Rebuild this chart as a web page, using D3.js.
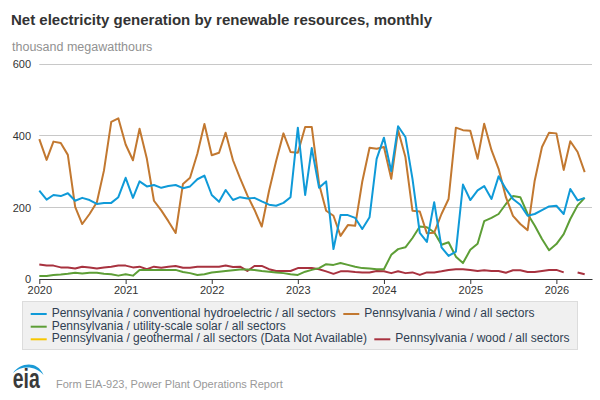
<!DOCTYPE html>
<html>
<head>
<meta charset="utf-8">
<script src="https://cdn.jsdelivr.net/npm/d3@7"></script>
<style>
  html, body { margin: 0; padding: 0; background: #fff; }
  svg { display: block; font-family: "Liberation Sans", Arial, sans-serif; }
</style>
</head>
<body>
<svg id="chart" width="600" height="400"></svg>
<script>
// ---- data (thousand megawatthours), monthly Jan 2020 – May 2026 ----
const startYear = 2020;
const hydro = [245,220,233,230,238,217,225,219,208,211,211,227,
  281,225,271,257,261,253,258,261,252,257,277,287,
  233,214,247,219,227,223,225,215,206,203,211,227,
  421,233,364,253,271,82,177,177,169,138,171,334,
  393,299,425,395,278,127,102,213,87,63,75,262,
  219,246,258,222,285,250,222,206,175,180,191,201,
  203,180,250,218,225];
const wind = [389,331,382,378,345,200,152,180,213,301,437,447,
  374,330,418,334,217,190,160,127,264,281,348,431,
  344,351,407,330,280,232,192,145,245,328,405,353,
  351,423,423,264,189,175,119,149,147,270,365,362,
  367,278,414,339,189,187,126,128,180,222,421,414,
  412,334,432,358,306,227,175,152,135,273,367,407,
  405,303,383,353,297];
const solar = [7,7,10,11,13,16,14,16,16,13,12,8,
  12,8,24,24,24,24,24,24,18,15,10,12,
  17,19,21,23,25,25,24,21,19,17,15,12,
  10,19,24,29,40,38,43,38,33,29,28,26,
  26,66,82,87,113,145,143,129,94,101,61,43,
  80,97,160,169,180,208,230,227,180,148,110,79,
  96,124,166,204,225];
const geothermal = []; // Data Not Available
const wood = [39,36,36,31,31,28,33,31,28,31,33,36,
  36,31,33,26,33,30,33,35,30,30,33,33,
  33,33,36,32,33,21,35,35,26,21,21,21,
  29,29,29,26,20,13,20,20,18,17,17,21,
  20,15,20,15,17,10,17,17,20,24,26,26,
  24,21,23,21,21,16,23,23,18,18,21,24,
  24,17,null,17,12];
const yTicks = [0, 200, 400, 600];
const xTickYears = [2020, 2021, 2022, 2023, 2024, 2025, 2026];
const seriesNames = [
  "Pennsylvania / conventional hydroelectric / all sectors",
  "Pennsylvania / wind / all sectors",
  "Pennsylvania / utility-scale solar / all sectors",
  "Pennsylvania / geothermal / all sectors (Data Not Available)",
  "Pennsylvania / wood / all sectors"
];
const seriesColors = ["#0f9ad8", "#c27830", "#5d9e36", "#f7c600", "#a8323f"];

// ---- chart ----
const svg = d3.select("#chart");
const plotLeft = 39.3, plotRight = 592, plotTop = 63.5, plotBottom = 278.5;

const x = d3.scaleTime()
  .domain([new Date(startYear, 0, 1), new Date(2026, 5, 1)])
  .range([plotLeft, plotRight]);
const y = d3.scaleLinear().domain([0, 600]).range([plotBottom, plotTop]);

const dateOf = i => new Date(startYear, i, 1);

// title
svg.append("text").attr("x", 11).attr("y", 25)
  .attr("font-size", 15).attr("font-weight", "bold").attr("fill", "#333")
  .text("Net electricity generation by renewable resources, monthly");
svg.append("text").attr("x", 12).attr("y", 50.7)
  .attr("font-size", 12.5).attr("fill", "#919191")
  .text("thousand megawatthours");

// grid
svg.append("g").selectAll("line").data(yTicks.filter(d => d > 0)).join("line")
  .attr("x1", plotLeft).attr("x2", plotRight)
  .attr("y1", d => Math.round(y(d)) + 0.5).attr("y2", d => Math.round(y(d)) + 0.5)
  .attr("stroke", "#c8c8c8").attr("stroke-width", 1);

// y labels
svg.append("g").selectAll("text").data(yTicks).join("text")
  .attr("x", 31).attr("y", d => y(d) + 2)
  .attr("text-anchor", "end").attr("dominant-baseline", "middle")
  .attr("font-size", 11).attr("fill", "#333")
  .text(d => d);

// x axis
const xAxis = d3.axisBottom(x)
  .tickValues(xTickYears.map(yr => new Date(yr, 0, 1)))
  .tickFormat(d3.timeFormat("%Y"))
  .tickSize(5).tickSizeOuter(0);
const gx = svg.append("g").attr("transform", `translate(0,${plotBottom + 0.5})`).call(xAxis);
gx.select(".domain").attr("stroke", "#333");
gx.selectAll(".tick line").attr("stroke", "#333");
gx.selectAll(".tick text").attr("font-size", 11).attr("fill", "#333")
  .attr("font-family", "Liberation Sans, Arial, sans-serif").attr("dy", "0.6em");

// lines
const line = d3.line()
  .defined(d => d != null)
  .x((d, i) => x(dateOf(i)))
  .y(d => y(d));
const allSeries = [hydro, wind, solar, geothermal, wood];
const drawOrder = [4, 3, 2, 1, 0];
drawOrder.forEach(k => {
  const data = allSeries[k];
  if (!data.length) return;
  svg.append("path")
    .attr("d", line(data))
    .attr("fill", "none")
    .attr("stroke", seriesColors[k])
    .attr("stroke-width", 2)
    .attr("stroke-linejoin", "round");
});

// legend
const lg = svg.append("g");
lg.append("rect").attr("x", 22.5).attr("y", 301.5).attr("width", 555).attr("height", 48)
  .attr("fill", "#f0f0f0").attr("stroke", "#dcdcdc");
const legendPos = [
  [30.7, 314], [343.3, 314],
  [30.7, 326.7],
  [30.7, 339.3], [374.3, 339.3]
];
legendPos.forEach((p, k) => {
  lg.append("line").attr("x1", p[0]).attr("x2", p[0] + 16)
    .attr("y1", p[1]).attr("y2", p[1])
    .attr("stroke", seriesColors[k]).attr("stroke-width", 2);
  lg.append("text").attr("x", p[0] + 21).attr("y", p[1])
    .attr("dominant-baseline", "middle")
    .attr("font-size", 12).attr("fill", "#2f3e52")
    .text(seriesNames[k]);
});

// footer logo + source
const logo = svg.append("g");
logo.append("path")
  .attr("d", "M13,373 C20,363 37,360 43.5,375 C36,366 22,365 13,373 Z")
  .attr("fill", "#1a9ad6");
logo.append("text").attr("x", 12.7).attr("y", 387.5)
  .attr("font-size", 27).attr("font-weight", "bold").attr("fill", "#3a3a3a")
  .attr("textLength", 27).attr("lengthAdjust", "spacingAndGlyphs")
  .text("eia");
svg.append("text").attr("x", 56).attr("y", 387.5)
  .attr("font-size", 11).attr("fill", "#999")
  .text("Form EIA-923, Power Plant Operations Report");
</script>
</body>
</html>
